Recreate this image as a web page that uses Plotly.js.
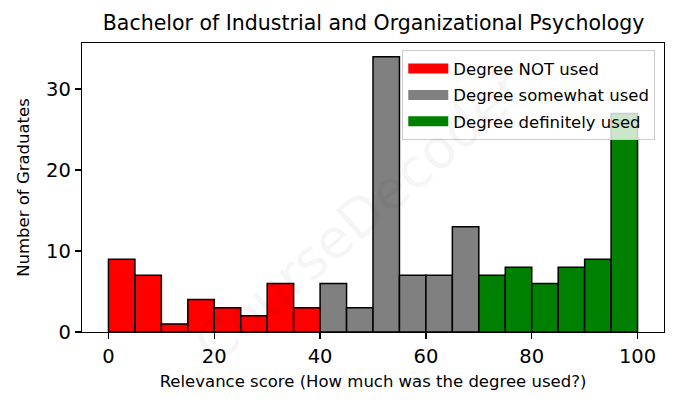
<!DOCTYPE html>
<html><head><meta charset="utf-8">
<script src="https://cdn.plot.ly/plotly-3.0.1.min.js"></script>
<style>body{margin:0;padding:0;background:#fff}#c{width:678px;height:408px}</style>
</head><body><div id="c"></div>
<script>
const binWidth = 5;
const notUsedStarts = [0, 5, 10, 15, 20, 25, 30, 35];
const notUsedCounts = [9, 7, 1, 4, 3, 2, 6, 3];
const somewhatStarts = [40, 45, 50, 55, 60, 65];
const somewhatCounts = [6, 3, 34, 7, 7, 13];
const definitelyStarts = [70, 75, 80, 85, 90, 95];
const definitelyCounts = [7, 8, 6, 8, 9, 27];
const seriesNames = ["Degree NOT used", "Degree somewhat used", "Degree definitely used"];
const seriesColors = ['#ff0000', '#808080', '#008000'];
const xTicks = [0, 20, 40, 60, 80, 100];
const yTicks = [0, 10, 20, 30];

function mk(starts, counts, i) {
  return {
    type: 'bar', x: starts.map(s => s + binWidth / 2), y: counts, width: binWidth,
    name: seriesNames[i], showlegend: false,
    marker: {color: seriesColors[i], line: {color: '#000', width: 1.5}},
    hoverinfo: 'x+y'
  };
}
function legendEntry(i) {
  return {type: 'scatter', mode: 'lines', x: [null], y: [null], name: seriesNames[i],
    legendgroup: 'g' + i, line: {color: seriesColors[i], width: 12}, showlegend: true};
}
const data = [
  mk(notUsedStarts, notUsedCounts, 0),
  mk(somewhatStarts, somewhatCounts, 1),
  mk(definitelyStarts, definitelyCounts, 2),
  legendEntry(0), legendEntry(1), legendEntry(2)
];
const font = "DejaVu Sans, sans-serif";
const layout = {
  width: 678, height: 408,
  margin: {l: 82, r: 14, t: 43, b: 76},
  paper_bgcolor: '#fff', plot_bgcolor: '#fff',
  font: {family: font, color: '#000'},
  bargap: 0,
  title: {text: 'Bachelor of Industrial and Organizational Psychology', font: {size: 20.5, family: font}, x: 0.551, xanchor: 'center', y: 0.945, yanchor: 'middle'},
  xaxis: {range: [-5, 105], tickvals: xTicks, ticks: 'outside', ticklen: 6, tickwidth: 1.3, tickcolor: '#000',
    showline: true, linecolor: '#000', linewidth: 1.3, mirror: true, showgrid: false, zeroline: false,
    tickfont: {size: 19.5}, title: {text: 'Relevance score (How much was the degree used?)', font: {size: 16.5}, standoff: 8}},
  yaxis: {range: [0, 35.7], tickvals: yTicks, ticks: 'outside', ticklen: 6, tickwidth: 1.3, tickcolor: '#000',
    showline: true, linecolor: '#000', linewidth: 1.3, mirror: true, showgrid: false, zeroline: false,
    tickfont: {size: 19.5}, title: {text: 'Number of Graduates', font: {size: 16.5}, standoff: 12}},
  legend: {x: 0.985, y: 0.975, xanchor: 'right', yanchor: 'top', bgcolor: 'rgba(255,255,255,0.8)',
    bordercolor: '#cccccc', borderwidth: 1, font: {size: 16.5}, itemwidth: 40,
    traceorder: 'grouped', tracegroupgap: 2},
  annotations: [{text: 'CourseDecoder', xref: 'paper', yref: 'paper', x: 0.478, y: 0.4, showarrow: false,
    textangle: -41, font: {size: 54, color: 'rgba(0,0,0,0.04)'}}],
  showlegend: true
};
Plotly.newPlot('c', data, layout, {displayModeBar: false, staticPlot: true});
</script></body></html>
